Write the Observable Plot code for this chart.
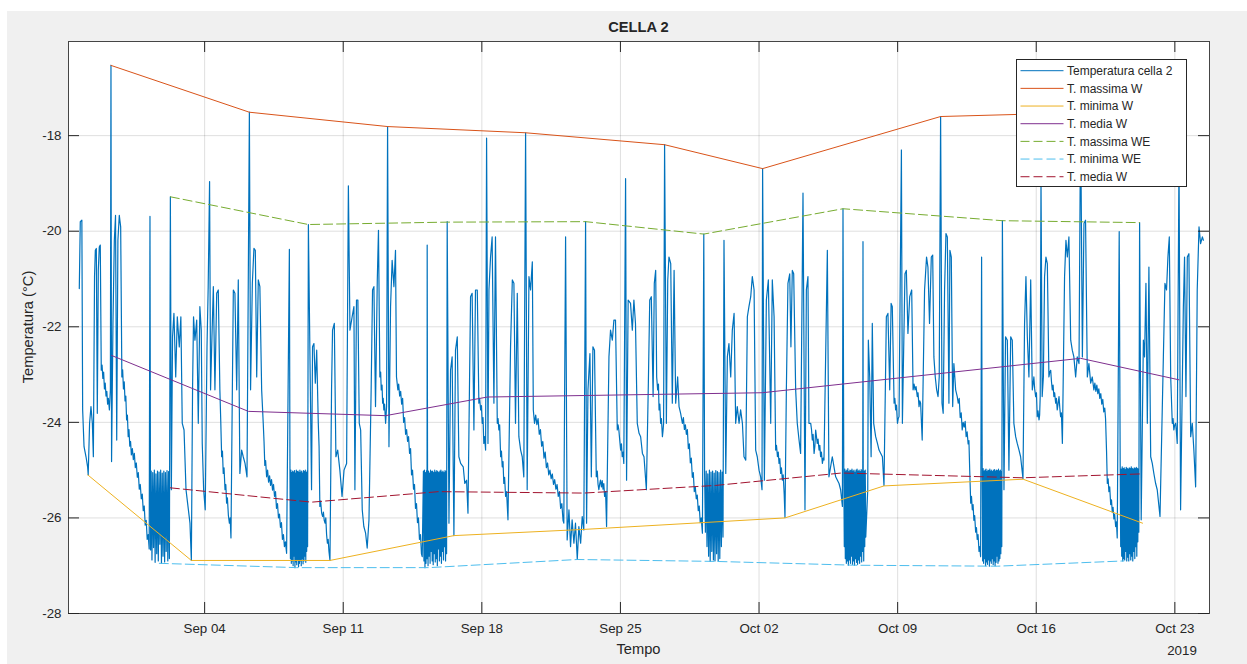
<!DOCTYPE html>
<html><head><meta charset="utf-8">
<script src="https://cdn.jsdelivr.net/npm/d3@7"></script>
<script src="https://cdn.jsdelivr.net/npm/@observablehq/plot@0.6"></script>
<style>
html,body{margin:0;padding:0;background:#fff;}
#fig{position:absolute;left:7px;top:11px;width:1240px;height:653px;background:#f0f0f0;}
#chart{position:absolute;left:0;top:0;}
#overlay{position:absolute;left:0;top:0;pointer-events:none;}
</style></head><body>
<div id="fig"></div>
<div id="chart"></div>
<script>
// ---- DATA (time = days since 2019-08-28 00:00 UTC, value = °C) ----
const title = "CELLA 2";
const xLabel = "Tempo";
const yLabel = "Temperatura (°C)";
const yearLabel = "2019";
const xTickDates = ["2019-09-04","2019-09-11","2019-09-18","2019-09-25","2019-10-02","2019-10-09","2019-10-16","2019-10-23"];
const yTicks = [-28,-26,-24,-22,-20,-18];
const xDomain = ["2019-08-28T03:00Z","2019-10-24T18:00Z"];
const yDomain = [-28,-16.03];
const seriesNames = ["Temperatura cella 2","T. massima W","T. minima W","T. media W","T. massima WE","T. minima WE","T. media W"];
const seriesColors = ["#0072BD","#D95319","#EDB120","#7E2F8E","#77AC30","#4DBEEE","#A2142F"];

// Temperatura cella 2 – traced vertices (day, value)
const tempA = [0.67,-21.20,0.72,-19.80,0.80,-19.77,0.84,-23.74,0.91,-24.51,1.01,-24.72,1.09,-24.93,1.12,-25.10,1.19,-24.02,1.26,-23.67,1.33,-24.02,1.38,-24.72,1.44,-20.95,1.48,-20.40,1.53,-20.36,1.58,-23.81,1.63,-20.82,1.68,-20.33,1.73,-20.29,
1.78,-22.91,1.82,-22.80,1.86,-23.08,1.90,-22.95,1.94,-23.30,1.98,-23.18,2.02,-23.45,2.06,-23.35,2.10,-23.62,2.14,-23.50,2.19,-23.74,
2.24,-23.32,2.27,-16.53,2.30,-24.82,2.37,-21.93,2.44,-20.19,2.50,-19.67,2.56,-24.37,2.62,-20.19,2.69,-19.67,2.76,-19.91,
2.82,-23.05,2.86,-22.90,2.90,-23.30,2.94,-23.15,2.98,-23.55,3.02,-23.45,3.06,-23.95,3.10,-23.85,3.14,-24.30,3.18,-24.15,3.22,-24.50,3.26,-24.40,3.30,-24.68,3.35,-24.55,3.40,-24.78,3.45,-24.65,3.50,-24.95,3.55,-24.85,3.60,-25.15,3.65,-25.05,3.70,-25.40,3.75,-25.30,3.80,-25.60,3.85,-25.50,3.90,-25.85,3.95,-25.75,4.00,-26.15,4.05,-26.05,4.10,-26.45,4.15,-26.35,4.20,-26.65,
4.24,-19.69,4.27,-26.67,
5.27,-19.28,5.32,-25.41,5.38,-22.21,5.45,-21.72,5.54,-23.05,5.62,-21.79,5.72,-22.42,5.80,-21.79,5.87,-24.02,5.96,-24.16,6.06,-25.41,6.14,-25.69,6.26,-26.11,6.33,-26.89,6.39,-23.32,6.44,-21.79,6.51,-22.28,6.60,-21.86,6.68,-24.02,6.76,-21.58,6.83,-22.07,6.88,-24.44,6.95,-25.41,7.03,-25.83,7.12,-22.42,7.18,-21.16,7.25,-18.96,7.30,-23.32,7.37,-22.21,7.44,-21.16,7.52,-23.32,7.61,-21.30,7.69,-21.23,
7.77,-23.32,7.81,-23.90,7.86,-24.72,7.90,-24.60,7.94,-25.07,7.98,-24.95,8.03,-25.41,8.07,-25.30,8.11,-25.69,8.15,-25.58,8.20,-25.95,8.25,-26.11,8.29,-26.00,8.33,-26.42,
8.40,-23.32,8.45,-21.23,8.53,-21.30,8.62,-23.32,8.70,-21.02,8.78,-25.07,8.87,-24.58,8.95,-24.72,9.04,-24.86,9.14,-25.14,9.26,-17.51,9.32,-23.32,9.41,-21.09,9.49,-20.36,9.56,-20.40,9.63,-23.05,9.71,-21.02,9.79,-21.16,9.88,-23.32,
9.96,-24.02,10.00,-24.40,10.04,-24.90,10.08,-24.80,10.13,-25.14,10.18,-25.00,10.23,-25.25,10.28,-25.12,10.33,-25.32,10.38,-25.20,10.43,-25.42,10.48,-25.30,10.53,-25.55,10.58,-25.45,10.63,-25.80,10.68,-25.70,10.73,-26.00,10.78,-25.92,10.83,-26.20,10.88,-26.10,10.93,-26.45,10.98,-26.35,11.03,-26.60,11.08,-26.50,11.14,-26.74,
11.28,-20.38,
12.24,-19.86,12.40,-25.41,12.45,-22.42,12.52,-22.35,12.59,-23.18,12.66,-22.49,
12.74,-24.02,12.78,-24.50,12.82,-25.76,12.86,-25.65,12.91,-25.90,12.96,-25.97,13.00,-25.88,13.04,-26.05,13.08,-26.11,13.12,-26.00,13.16,-26.35,13.20,-26.53,13.24,-26.45,13.28,-26.70,13.33,-26.89,
13.41,-23.32,13.46,-22.07,13.55,-21.93,13.63,-24.72,13.72,-24.58,13.83,-25.00,13.94,-25.55,14.04,-25.00,14.17,-24.86,14.26,-19.05,14.34,-22.07];
const tempB = [14.45,-21.79,14.54,-21.58,14.59,-25.41,14.67,-21.44,14.74,-21.44,14.81,-24.02,14.88,-24.16,14.96,-25.83,15.04,-26.18,15.13,-26.32,15.21,-26.63,15.30,-26.04,15.41,-23.32,15.48,-21.23,15.55,-21.16,15.63,-23.67,15.72,-21.02,15.78,-19.98,
15.85,-23.05,15.89,-22.95,15.92,-23.32,15.96,-23.22,15.99,-23.60,16.02,-23.50,16.05,-23.74,16.09,-23.62,16.14,-24.02,16.19,-23.67,
16.24,-17.81,16.31,-24.51,16.39,-21.58,16.47,-20.61,16.56,-21.16,16.64,-20.40,16.69,-23.05,
16.76,-23.32,16.80,-23.20,16.85,-23.45,16.90,-23.35,16.95,-23.62,17.00,-23.50,17.05,-24.00,17.10,-23.90,17.15,-24.25,17.20,-24.15,17.25,-24.40,17.30,-24.30,17.35,-24.65,17.40,-24.55,17.45,-25.10,17.50,-25.00,17.55,-25.40,17.60,-25.30,17.65,-25.80,17.70,-25.70,17.75,-26.10,17.80,-26.00,17.85,-26.45,17.90,-26.35,17.95,-26.75,17.99,-26.81,
18.24,-20.29,
19.25,-19.80,19.34,-26.11,19.42,-22.91,19.50,-22.63,19.59,-26.37,19.67,-22.49,19.76,-22.21,19.84,-24.72,19.93,-24.86,20.06,-24.93,20.14,-25.28,20.23,-25.21,20.30,-25.90,20.43,-21.37,20.51,-21.30,20.60,-24.16,20.68,-21.23,20.77,-21.23,
20.85,-23.60,20.89,-23.50,20.94,-23.74,20.98,-23.65,21.02,-24.02,21.06,-23.90,21.10,-24.44,21.14,-24.30,21.19,-24.58,
21.24,-18.05,21.31,-24.44,21.36,-21.23,21.44,-20.54,21.52,-20.12,21.61,-23.60,21.69,-20.12,
21.78,-24.02,21.82,-23.92,21.86,-24.16,21.90,-24.05,21.95,-24.72,21.99,-24.60,22.03,-24.93,22.07,-24.82,22.11,-25.28,22.15,-25.15,22.20,-25.55,22.25,-25.45,22.32,-26.04,
22.45,-22.42,22.54,-21.02,22.62,-21.09,22.70,-24.02,22.79,-21.30,22.87,-24.30,22.96,-24.58,23.04,-24.72,23.12,-25.14,23.21,-17.94,23.29,-25.41,23.38,-20.95,23.46,-21.23,23.55,-20.64,23.60,-23.74,
23.66,-24.02,23.72,-23.85,23.78,-24.05,23.84,-23.92,23.90,-24.25,23.96,-24.15,24.02,-24.50,24.08,-24.40,24.14,-24.75,24.20,-24.62,24.26,-24.95,24.32,-24.85,24.38,-25.10,24.44,-25.00,24.50,-25.18,24.56,-25.08,24.62,-25.30,24.68,-25.20,24.74,-25.40,24.80,-25.30,24.86,-25.55,24.92,-25.45,24.98,-25.80,25.04,-25.70,25.10,-26.05,25.14,-26.11,
25.23,-20.12,25.31,-26.46,25.40,-25.83,25.48,-26.60,25.56,-26.04,25.65,-26.53,25.73,-26.11,25.82,-26.87,25.90,-26.18,25.99,-26.53,26.07,-25.97,26.15,-26.25,26.24,-19.80,26.29,-26.11,26.36,-23.32,26.46,-22.56,26.53,-25.14,26.61,-22.42,26.69,-22.49,
26.78,-25.14,26.83,-25.02,26.87,-25.30,26.91,-25.41,26.95,-25.30,26.99,-25.21,27.04,-25.35,27.08,-25.22,27.12,-25.40,27.16,-25.28,27.20,-25.55,27.25,-25.45,27.30,-26.18,
27.42,-22.63,27.50,-22.07,27.59,-22.28,27.67,-21.86,27.75,-21.86,
27.84,-24.16,27.88,-24.05,27.92,-24.16,27.96,-24.35,28.01,-24.58,28.05,-24.45,28.09,-24.72,28.13,-24.62,28.17,-24.86,
28.26,-18.90,28.31,-25.21,28.39,-21.44,28.51,-21.51,28.60,-22.07,28.68,-21.44,28.76,-21.93,28.85,-24.02];
const tempC = [28.94,-24.23,29.02,-24.30,29.11,-24.65,29.19,-24.72,29.31,-25.41,29.41,-23.18,29.48,-21.44,29.56,-21.37,29.65,-23.46,29.71,-21.09,29.78,-20.82,29.83,-23.05,
29.88,-23.32,29.92,-23.20,29.95,-23.74,29.99,-23.62,30.03,-24.02,30.07,-23.92,30.12,-24.30,30.15,-24.18,30.18,-24.02,
30.23,-18.19,30.32,-24.02,30.39,-21.02,30.45,-20.54,30.54,-20.68,30.62,-23.60,30.71,-20.82,30.79,-23.60,30.89,-23.05,30.96,-23.67,31.04,-23.81,
31.13,-24.02,31.18,-23.90,31.23,-24.15,31.28,-24.05,31.33,-24.25,31.38,-24.15,31.43,-24.55,31.48,-24.45,31.53,-24.85,31.58,-24.75,31.63,-25.15,31.68,-25.05,31.73,-25.45,31.78,-25.35,31.83,-25.60,31.88,-25.52,31.93,-25.85,31.98,-25.75,32.03,-26.10,32.08,-26.00,32.14,-26.32,
32.21,-20.06,
33.23,-20.19,33.32,-25.07,33.40,-22.63,33.48,-22.35,33.57,-23.05,33.65,-22.07,33.74,-21.72,33.82,-24.02,33.90,-23.67,33.99,-24.02,34.07,-23.74,34.16,-24.02,34.24,-24.72,34.33,-24.79,34.41,-21.79,34.49,-21.58,34.58,-21.37,34.66,-20.95,34.75,-21.23,34.83,-24.58,34.91,-24.72,35.00,-25.00,35.08,-25.14,35.15,-25.41,35.18,-18.69,35.27,-25.21,35.37,-21.44,35.47,-21.02,35.59,-24.02,35.67,-21.02,35.76,-21.79,
35.84,-24.58,35.88,-24.48,35.93,-24.72,35.97,-24.62,36.01,-24.86,36.05,-24.76,36.09,-25.07,36.13,-24.95,36.18,-25.21,36.22,-25.10,36.27,-25.50,36.31,-25.99,
36.38,-23.32,36.46,-21.09,36.55,-20.89,36.61,-22.42,36.68,-20.82,36.75,-20.89,36.85,-23.32,36.93,-24.02,37.02,-24.37,37.10,-24.65,37.22,-19.20,37.32,-25.83,37.39,-21.23,37.47,-20.95,37.52,-24.02,
37.61,-24.02,37.65,-24.15,37.69,-24.37,37.73,-24.25,37.78,-24.65,37.82,-24.50,37.86,-24.16,37.90,-24.30,37.94,-24.44,37.98,-24.35,38.03,-24.58,38.07,-24.48,38.11,-24.72,38.15,-24.62,38.20,-24.86,38.24,-24.75,38.28,-24.79,
38.45,-20.40,38.53,-25.14,38.70,-24.72,38.87,-25.14,39.04,-25.28,39.12,-25.41,39.21,-25.76,39.24,-19.53,40.25,-20.22,
40.49,-25.41,40.52,-22.28,40.59,-23.05,40.66,-24.72,40.72,-21.93,40.79,-24.02,40.89,-24.30,40.98,-24.44,41.06,-24.58,41.23,-24.72,41.31,-25.32,41.43,-21.79,41.51,-21.72,41.60,-23.32,41.67,-21.51,41.73,-21.58,
41.82,-23.60,41.86,-23.50,41.90,-23.74,41.94,-23.64,41.99,-24.02,42.03,-23.92,42.07,-23.88,
42.19,-18.30,42.24,-24.02,42.37,-20.89,42.44,-20.82,42.52,-22.14,42.61,-21.37,42.71,-21.23,
42.78,-23.32,42.83,-23.20,42.88,-23.32,42.93,-23.25,42.99,-23.46,43.03,-23.38,43.08,-23.67,43.12,-23.55,43.16,-23.60];
const tempD = [43.24,-24.37,43.36,-21.23,43.46,-20.54,43.53,-20.75,43.61,-21.93,43.70,-20.54,43.77,-20.50,43.83,-22.63,43.90,-23.05,43.97,-23.32,44.04,-23.46,44.10,-23.05,44.17,-17.60,44.24,-23.60,44.30,-23.81,44.37,-21.23,44.44,-20.05,44.51,-20.12,44.59,-23.60,44.64,-20.40,44.71,-20.54,44.78,-23.67,44.84,-22.77,44.93,-23.32,
45.01,-23.46,45.06,-23.60,45.11,-23.50,45.16,-23.90,45.21,-23.80,45.26,-24.16,45.31,-24.00,45.36,-24.10,45.41,-23.98,45.46,-24.30,45.51,-24.20,45.56,-24.45,45.60,-24.38,45.64,-25.00,45.69,-25.69,45.73,-25.55,45.77,-25.83,45.81,-25.72,45.85,-26.05,45.89,-25.95,45.94,-26.30,45.98,-26.20,46.02,-26.45,46.06,-26.35,46.11,-26.70,46.15,-26.60,46.19,-26.81,
46.24,-20.54,
47.29,-19.78,47.37,-25.41,47.45,-22.21,47.54,-22.28,47.62,-25.00,47.71,-22.21,47.79,-22.28,47.87,-24.02,47.96,-24.30,48.04,-24.44,48.13,-24.58,48.21,-24.72,48.33,-25.18,48.41,-21.93,48.48,-20.95,48.55,-22.21,48.63,-23.05,48.72,-21.02,
48.80,-23.32,48.84,-23.20,48.88,-23.05,48.92,-23.30,48.97,-23.46,49.01,-23.38,49.05,-23.88,49.09,-23.76,49.14,-23.95,49.17,-23.85,49.20,-23.46,
49.24,-18.90,49.30,-23.46,49.36,-23.05,49.42,-20.95,49.49,-20.54,49.56,-20.68,
49.64,-23.05,49.68,-22.95,49.73,-22.91,49.77,-23.15,49.81,-23.32,49.85,-23.22,49.89,-23.46,49.93,-23.38,49.98,-23.60,50.02,-23.50,50.06,-23.74,50.10,-23.62,50.15,-23.46,50.19,-23.70,50.23,-23.88,50.27,-23.80,50.32,-24.44,
50.43,-20.95,50.50,-20.19,50.57,-20.54,50.65,-20.12,50.74,-22.28,50.82,-22.49,50.90,-22.63,50.99,-23.05,51.07,-22.63,51.16,-22.77,51.24,-17.52,51.33,-22.63,51.41,-19.84,51.49,-19.77,51.58,-23.05,51.66,-22.77,51.75,-23.18,51.83,-23.05,
51.91,-23.32,51.96,-23.18,52.01,-23.35,52.06,-23.22,52.11,-23.40,52.16,-23.30,52.21,-23.50,52.26,-23.40,52.31,-23.62,52.36,-23.52,52.41,-23.78,52.46,-23.70,52.50,-23.92,52.55,-24.60,52.59,-25.28,52.63,-25.18,52.67,-25.45,52.71,-25.35,52.76,-25.72,52.80,-25.62,52.84,-25.88,52.88,-25.78,52.92,-26.02,52.96,-25.92,53.01,-26.18,53.05,-26.08,53.09,-26.42,
53.19,-20.01,
54.22,-19.82,54.30,-26.04,54.41,-22.28,54.47,-22.63,54.54,-21.09,54.61,-24.02,54.69,-20.75,54.78,-24.72,54.86,-24.86,54.94,-25.07,55.03,-25.28,55.11,-25.41,55.25,-25.97,55.42,-22.63,55.50,-21.09,55.58,-21.23,55.65,-20.54,55.72,-20.12,55.79,-23.05,
55.87,-24.02,55.91,-23.92,55.95,-24.16,55.99,-24.06,56.04,-24.02,56.08,-24.20,56.12,-24.44,
56.21,-18.50,56.29,-25.83,56.43,-21.58,56.49,-20.54,56.56,-23.46,56.63,-20.54,56.71,-20.47,56.80,-24.30,56.88,-24.02,56.96,-24.58,57.05,-25.35,57.13,-21.23,57.22,-19.91,57.30,-20.26,57.39,-20.12,57.44,-20.19];

// weekend compressor cycling (evenly sampled between start and end day)
const blockStart = [4.30,11.31,18.05,32.25,39.28,46.27,53.24];
const blockEnd   = [5.22,12.20,19.22,33.18,40.39,47.26,54.18];
const block1 = [-25.02,-26.88,-25.05,-26.62,-25.0,-26.93,-25.08,-26.75,-25.02,-26.9,-25.04,-26.55,-25.0,-26.95,-25.06,-26.8,-25.02,-26.92,-25.05,-26.7,-25.01,-26.9,-25.03,-26.85];
const block2 = [-25.03,-26.85,-25.0,-26.95,-25.05,-26.9,-25.02,-27.0,-25.04,-26.8,-25.01,-27.04,-25.06,-26.92,-25.0,-26.98,-25.03,-26.87,-25.02,-27.02,-25.05,-26.95,-25.0,-26.9,-25.04,-27.0,-25.02,-26.85,-25.06,-26.96,-25.01,-26.9,-25.03,-26.8,-25.0,-26.93,-25.05,-26.7,-25.02,-26.6];
const block3 = [-25.02,-26.9,-25.0,-27.04,-25.05,-26.95,-25.01,-26.85,-25.04,-27.0,-25.02,-26.8,-25.06,-26.95,-25.0,-26.7,-25.03,-26.9,-25.02,-26.98,-25.05,-26.75,-25.0,-26.92,-25.04,-26.85,-25.01,-27.0,-25.03,-26.65,-25.05,-26.9,-25.02,-26.8,-25.0,-26.95,-25.04,-26.7,-25.02,-26.88,-25.05,-26.6,-25.01,-26.9,-25.03,-26.75];
const block5 = [-25.05,-26.3,-25.02,-26.6,-25.08,-26.8,-25.0,-26.91,-25.04,-26.7,-25.02,-26.88,-25.06,-26.9,-25.01,-26.75,-25.03,-26.9,-25.05,-26.85,-25.0,-26.6,-25.04,-26.4];
const block6 = [-25.0,-26.6,-24.98,-26.85,-25.02,-26.95,-25.0,-26.9,-24.97,-26.99,-25.03,-26.88,-25.0,-26.95,-25.01,-26.8,-24.98,-26.97,-25.02,-26.9,-25.0,-26.99,-25.04,-26.85,-25.0,-26.93,-24.98,-26.97,-25.02,-26.88,-25.0,-26.95,-25.03,-26.8,-24.99,-26.92,-25.01,-26.7,-25.0,-26.9,-25.02,-26.6,-25.0,-26.4];
const block7 = [-25.0,-26.9,-24.97,-26.95,-25.02,-26.85,-25.0,-27.0,-24.98,-26.92,-25.03,-26.97,-25.0,-26.88,-25.01,-27.01,-24.98,-26.9,-25.02,-26.95,-25.0,-26.85,-25.03,-26.98,-25.0,-26.9,-24.99,-27.0,-25.02,-26.93,-25.0,-26.8,-25.01,-26.95,-24.98,-26.9,-25.02,-26.85,-25.0,-26.75,-25.03,-26.6];
const block8 = [-24.95,-26.6,-24.98,-26.8,-24.93,-26.9,-24.97,-26.85,-24.95,-26.88,-24.99,-26.7,-24.94,-26.9,-24.96,-26.82,-24.98,-26.9,-24.95,-26.75,-24.97,-26.88,-24.93,-26.8,-24.96,-26.9,-24.98,-26.7,-24.95,-26.85,-24.97,-26.6,-24.94,-26.8,-24.96,-26.5,-24.98,-26.3];
const blockValues = [block1,block2,block3,block5,block6,block7,block8];

// weekly statistics (day, value)
const maxW  = [2.27,-16.53,9.26,-17.51,16.24,-17.81,23.21,-17.94,30.23,-18.19,35.18,-18.69,44.17,-17.60,51.24,-17.52];
const minW  = [1.10,-25.10,6.33,-26.89,13.33,-26.89,19.59,-26.37,26.16,-26.24,36.31,-26.00,41.31,-25.33,48.34,-25.19,54.37,-26.11];
const meanW = [2.30,-22.60,9.21,-23.77,16.14,-23.86,21.28,-23.47,35.17,-23.38,51.24,-22.66,56.21,-23.11];
const maxWE = [5.27,-19.28,12.24,-19.86,19.26,-19.81,26.24,-19.80,32.21,-20.06,39.24,-19.53,47.29,-19.78,54.22,-19.82];
const minWE = [4.71,-26.95,11.65,-27.04,18.33,-27.04,25.82,-26.87,32.80,-26.91,39.88,-26.99,47.03,-27.01,53.43,-26.90];
const meanWE= [5.27,-25.37,12.40,-25.67,18.82,-25.45,26.14,-25.48,32.81,-25.32,39.17,-25.06,48.31,-25.16,54.22,-25.08];

// ---- BUILD ----
const T0 = Date.UTC(2019,7,28);
const day = d => new Date(T0 + d*864e5);
const pairs = a => { const o=[]; for (let i=0;i<a.length;i+=2) o.push({date: day(a[i]), value: a[i+1]}); return o; };
let temp = [...pairs(tempA),...pairs(tempB),...pairs(tempC),...pairs(tempD)];
blockValues.forEach((vals,k)=>{
  const s=blockStart[k], e=blockEnd[k], n=vals.length;
  vals.forEach((v,j)=>temp.push({date: day(s+(e-s)*j/(n-1)), value: v}));
});
temp.sort((a,b)=>a.date-b.date);

const xTicks = xTickDates.map(s=>new Date(s+"T00:00Z"));
const axisColor = "#262626";
const FW = 1247-68-38, FH = 664-41-51, TL = 11;
const statSeries = [maxW,minW,meanW,maxWE,minWE,meanWE];
const dashed = [false,false,false,true,true,true];

const chart = Plot.plot({
  width: 1247, height: 664,
  marginLeft: 68, marginRight: 38, marginTop: 41, marginBottom: 51,
  x: {type: "utc", domain: xDomain.map(s=>new Date(s))},
  y: {domain: yDomain},
  style: {background: "transparent", fontFamily: "'Liberation Sans', Arial, sans-serif", fontSize: "13.33px", color: axisColor},
  marks: [
    Plot.frame({fill: "white", stroke: "none"}),
    Plot.gridX(xTicks, {stroke: axisColor, strokeOpacity: 0.15}),
    Plot.gridY(yTicks, {stroke: axisColor, strokeOpacity: 0.15}),
    Plot.line(temp, {x: "date", y: "value", stroke: seriesColors[0], strokeWidth: 1.2}),
    ...statSeries.map((s,i)=>Plot.line(pairs(s), {x: "date", y: "value", stroke: seriesColors[i+1], strokeWidth: 1, strokeDasharray: dashed[i] ? "9,4" : null})),
    Plot.ruleX(xTicks, {stroke: axisColor, insetTop: FH-TL}),
    Plot.ruleX(xTicks, {stroke: axisColor, insetBottom: FH-TL}),
    Plot.ruleY(yTicks, {stroke: axisColor, insetRight: FW-TL}),
    Plot.ruleY(yTicks, {stroke: axisColor, insetLeft: FW-TL}),
    Plot.frame({stroke: axisColor, strokeOpacity: 0.85}),
    Plot.axisX(xTicks, {tickSize: 0, tickPadding: 10, tickFormat: d3.utcFormat("%b %d"), label: null}),
    Plot.axisY(yTicks, {tickSize: 0, tickPadding: 7, tickFormat: d=>String(d), label: null})
  ]
});
document.getElementById("chart").appendChild(chart);

// ---- TEXT OVERLAY: title, axis labels, legend ----
const ov = d3.select("body").append("svg").attr("id","overlay").attr("width",1247).attr("height",664)
  .style("font-family","'Liberation Sans', Arial, sans-serif").style("fill",axisColor);
ov.append("text").attr("x",638.5).attr("y",32).attr("text-anchor","middle").style("font-size","14.67px").style("font-weight","bold").text(title);
ov.append("text").attr("x",638.5).attr("y",654).attr("text-anchor","middle").style("font-size","14.67px").text(xLabel);
ov.append("text").attr("transform","translate(33,327) rotate(-90)").attr("text-anchor","middle").style("font-size","14.67px").text(yLabel);
ov.append("text").attr("x",1182).attr("y",655).attr("text-anchor","middle").style("font-size","13.33px").text(yearLabel);

const lg = ov.append("g");
lg.append("rect").attr("x",1016.5).attr("y",59.5).attr("width",170).attr("height",127).attr("fill","white").attr("stroke",axisColor).attr("stroke-width",1);
seriesNames.forEach((name,i)=>{
  const y = 70.7 + i*17.67;
  lg.append("line").attr("x1",1020.5).attr("x2",1063.5).attr("y1",y).attr("y2",y)
    .attr("stroke",seriesColors[i]).attr("stroke-width",1).attr("stroke-dasharray", i>=4 ? "9,4" : null);
  lg.append("text").attr("x",1067).attr("y",y).attr("dy","0.35em").style("font-size","12px").text(name);
});
</script>
</body></html>
